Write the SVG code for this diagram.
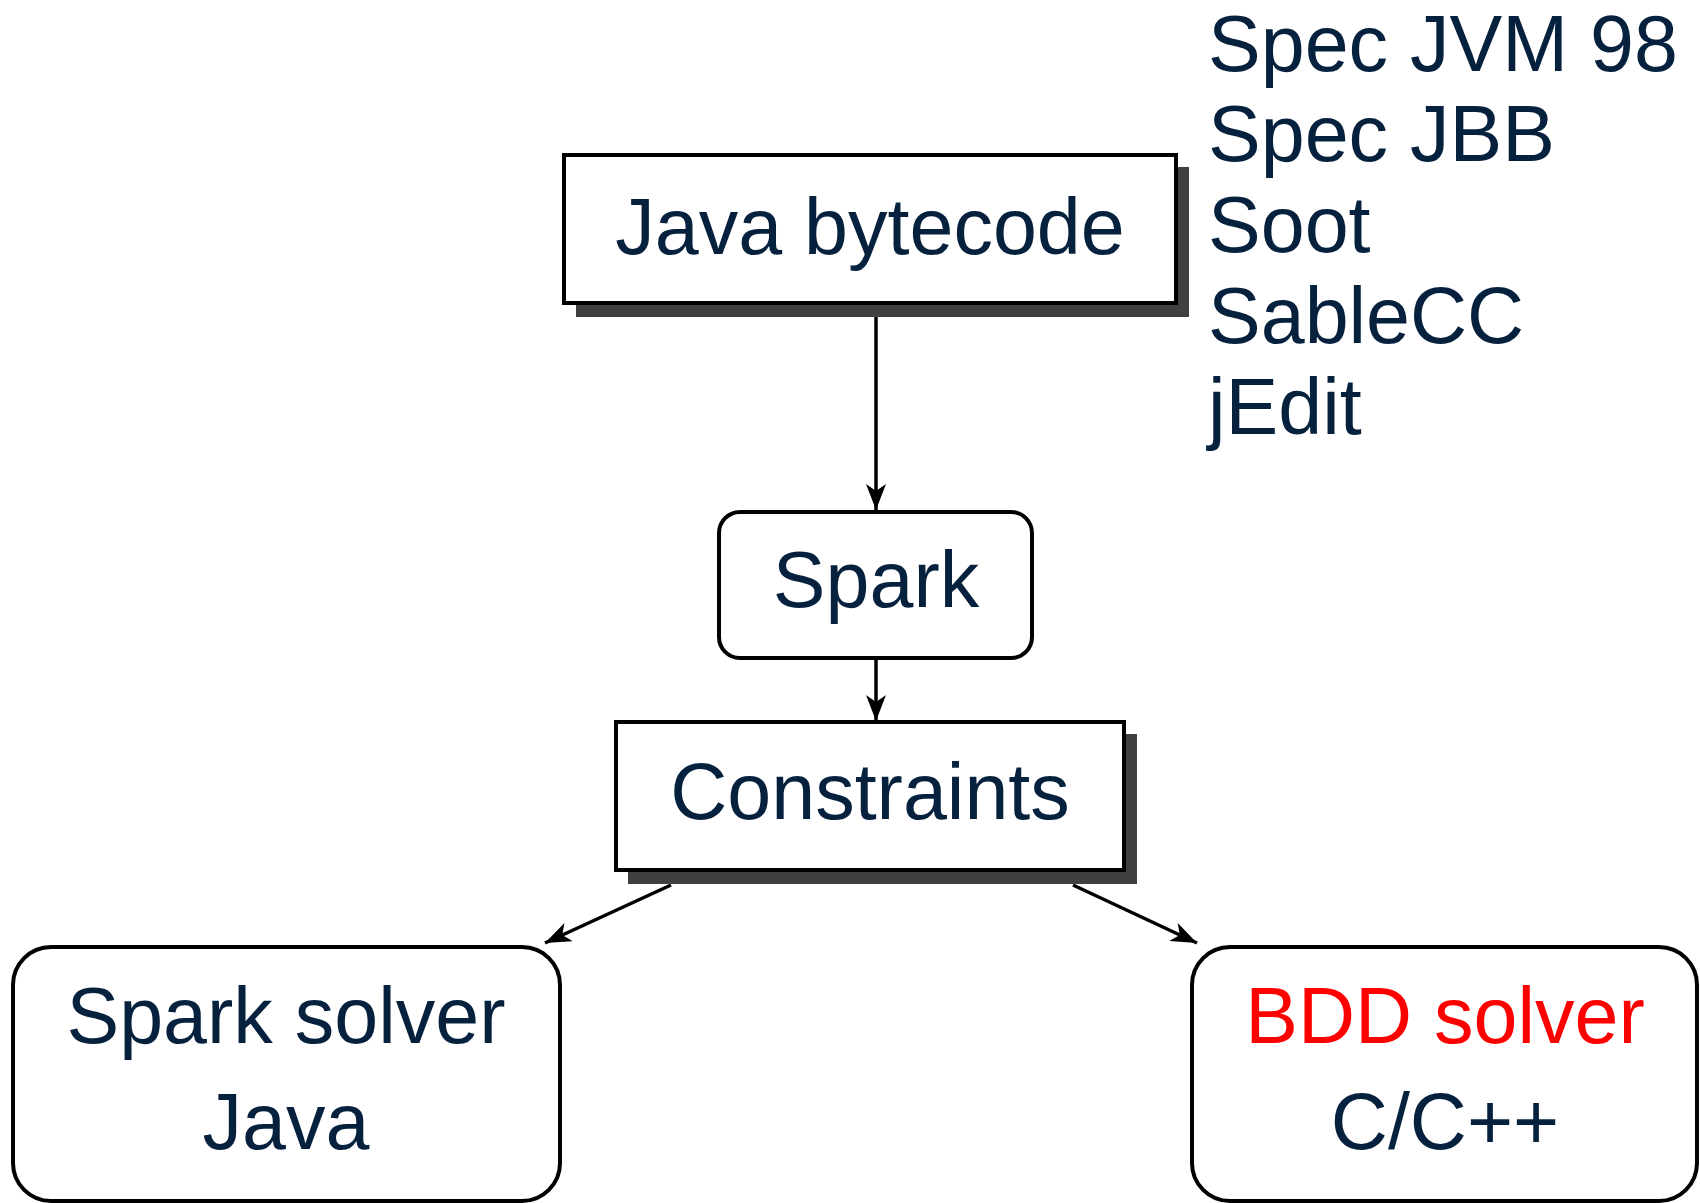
<svg xmlns="http://www.w3.org/2000/svg" width="1700" height="1203" viewBox="0 0 1700 1203">
  <style>
    .box { fill: #ffffff; stroke: #000000; stroke-width: 4; }
    .shadow { fill: #404040; }
    .lbl { font-family: "Liberation Sans", Arial, sans-serif; font-size: 79px; fill: #06213d; }
    .mid { text-anchor: middle; }
    .red { fill: #ff0000; }
    .edge { stroke: #000000; stroke-width: 3.5; fill: none; marker-end: url(#arrow); }
  </style>
  <defs>
    <marker id="arrow" markerUnits="userSpaceOnUse" viewBox="0 0 26 20" refX="26" refY="10" markerWidth="26" markerHeight="20" orient="auto">
      <path d="M0,0 L26,10 L0,20 L7,10 Z" fill="#000000"/>
    </marker>
  </defs>

  <rect width="1700" height="1203" fill="#ffffff"/>

  <!-- benchmark list -->
  <g id="benchmarks">
    <text class="lbl" x="1208" y="71">Spec JVM 98</text>
    <text class="lbl" x="1208" y="161">Spec JBB</text>
    <text class="lbl" x="1208" y="252">Soot</text>
    <text class="lbl" x="1208" y="343">SableCC</text>
    <text class="lbl" x="1208" y="434">jEdit</text>
  </g>

  <!-- connectors -->
  <g id="connectors">
    <line class="edge" x1="876" y1="316" x2="876" y2="510"/>
    <line class="edge" x1="876" y1="658" x2="876" y2="721"/>
    <line class="edge" x1="671" y1="885" x2="545" y2="943"/>
    <line class="edge" x1="1073" y1="885" x2="1197" y2="943"/>
  </g>

  <g id="java-bytecode">
    <rect class="shadow" x="576" y="167" width="613" height="150"/>
    <rect class="box" x="564" y="155" width="612" height="148"/>
    <text class="lbl mid" x="870" y="254">Java bytecode</text>
  </g>

  <g id="spark">
    <rect class="box" x="719" y="512" width="313" height="146" rx="21" ry="21"/>
    <text class="lbl mid" x="876" y="607">Spark</text>
  </g>

  <g id="constraints">
    <rect class="shadow" x="628" y="734" width="509" height="150"/>
    <rect class="box" x="616" y="722" width="508" height="148"/>
    <text class="lbl mid" x="870" y="819">Constraints</text>
  </g>

  <g id="spark-solver">
    <rect class="box" x="13" y="947" width="547" height="254" rx="38" ry="38"/>
    <text class="lbl mid" x="286" y="1043">Spark solver</text>
    <text class="lbl mid" x="286" y="1149">Java</text>
  </g>

  <g id="bdd-solver">
    <rect class="box" x="1192" y="947" width="505" height="254" rx="38" ry="38"/>
    <text class="lbl mid red" x="1445" y="1043">BDD solver</text>
    <text class="lbl mid" x="1445" y="1149">C/C++</text>
  </g>
</svg>
